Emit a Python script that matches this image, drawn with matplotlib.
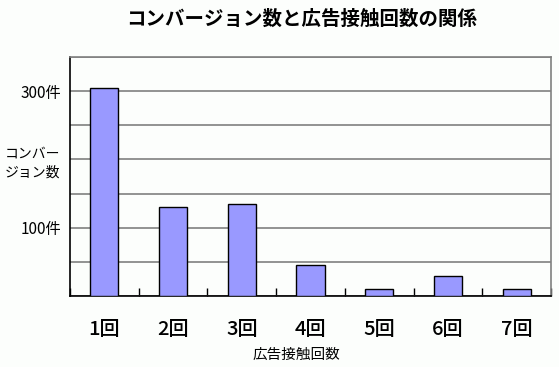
import matplotlib
matplotlib.use("Agg")
import matplotlib.pyplot as plt
from matplotlib.ticker import MultipleLocator

plt.rcParams['font.family'] = ['Noto Sans CJK JP', 'DejaVu Sans']

categories = ['1回', '2回', '3回', '4回', '5回', '6回', '7回']
conversions = [304, 130, 135, 45, 10, 30, 10]
ytick_vals = [100, 300]
ytick_labels = ['100件', '300件']

fig = plt.figure(figsize=(5.59, 3.67), dpi=100)
fig.patch.set_facecolor('#fcfefc')
ax = fig.add_axes([70/559, 71/367, 481/559, 239/367])
ax.set_facecolor('#fcfefc')

x = range(len(categories))
ax.bar(x, conversions, width=0.41, color='#9999ff', edgecolor='black', linewidth=1, zorder=3)

ax.set_xlim(-0.5, len(categories) - 0.5)
ax.set_ylim(0, 350)
ax.yaxis.set_minor_locator(MultipleLocator(50))
ax.set_yticks(ytick_vals)
ax.set_yticklabels(ytick_labels, fontsize=11)
ax.grid(axis='y', which='both', color='#808080', linewidth=1.2, zorder=0)
ax.tick_params(axis='y', which='both', length=0, pad=6)

ax.set_xticks(list(x))
ax.set_xticklabels(categories, fontsize=14.5, fontweight='medium')
ax.set_xticks([i + 0.5 for i in range(-1, len(categories))], minor=True)
ax.tick_params(axis='x', which='major', length=0, pad=17)
ax.tick_params(axis='x', which='minor', direction='in', length=6, width=1, color='black')

for side in ['top', 'right']:
    ax.spines[side].set_color('#808080')
    ax.spines[side].set_linewidth(1.2)
for side in ['left', 'bottom']:
    ax.spines[side].set_color('black')
    ax.spines[side].set_linewidth(1.2)

fig.text(302/559, 1 - 19/367, 'コンバージョン数と広告接触回数の関係',
         ha='center', va='center', fontsize=14, fontweight='bold')
fig.text(5/559, 1 - 163/367, 'コンバー\nジョン数', ha='left', va='center',
         fontsize=10, linespacing=1.45)
fig.text(296/559, 1 - 355/367, '広告接触回数', ha='center', va='center', fontsize=10.5)

fig.savefig('out.png', dpi=100, facecolor=fig.get_facecolor())
